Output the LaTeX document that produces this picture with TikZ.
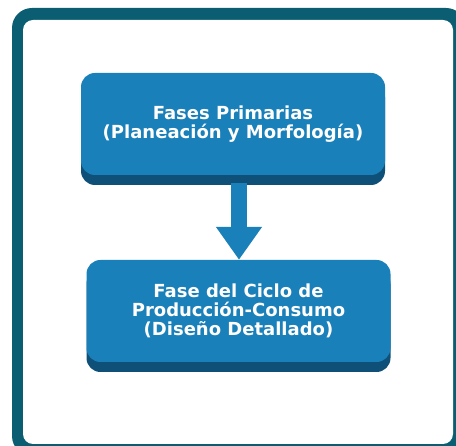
\documentclass[tikz,border=0pt]{standalone}
\usepackage{fontspec}
\setmainfont{DejaVu Sans}
\usetikzlibrary{arrows.meta,shadows}
\definecolor{framecol}{HTML}{0B5E71}
\definecolor{facecol}{HTML}{1A80BA}
\definecolor{shadecol}{HTML}{0E5077}

\begin{document}
\begin{tikzpicture}[x=1pt,y=-1pt,
    phase/.style={fill=facecol,rounded corners=14pt,minimum width=304pt,minimum height=102pt,
      text=white,align=center,font=\fontsize{18}{19}\selectfont\bfseries,
      drop shadow={shadow xshift=0pt,shadow yshift=-10pt,fill=shadecol,opacity=1}},
    flow/.style={facecol,line width=16pt,-{Triangle[width=44pt,length=33pt]}}]
          \useasboundingbox (0,0) rectangle (456,446);
          \clip (0,0) rectangle (456,446);
          \fill[framecol,rounded corners=20pt] (12,8) rectangle (466,456);
          \fill[white,rounded corners=10pt] (23,20) rectangle (453,444);

          \node[phase] (prim) at (233,124) {Fases Primarias\\(Planeación y Morfología)};
          \node[phase] (ciclo) at (238.5,311) {Fase del Ciclo de\\Producción-Consumo\\(Diseño Detallado)};

          \draw[flow,shorten <=8pt] (prim.south -| 239,0) -- (ciclo.north -| 239,0);
        \end{tikzpicture}
\end{document}
